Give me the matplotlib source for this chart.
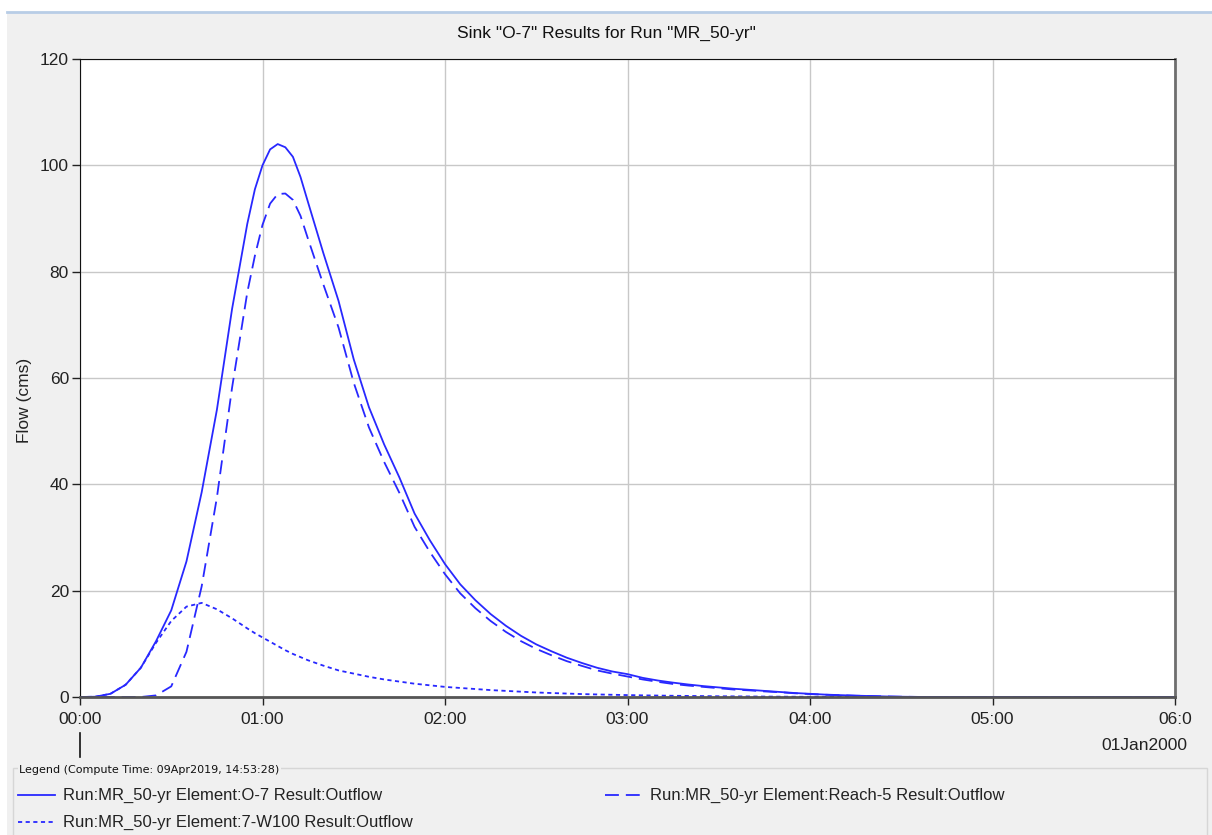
import matplotlib
matplotlib.use('Agg')
import matplotlib.pyplot as plt
from matplotlib.lines import Line2D
from matplotlib.patches import Rectangle

# time in minutes from 00:00, 01Jan2000
minutes = [0, 5, 10, 15, 20, 25, 30, 35, 40, 45, 50, 55, 57.5, 60, 62.5, 65, 67.5, 70, 72.5,
           75, 80, 85, 90, 95, 100, 105, 110, 115, 120, 125, 130, 135, 140, 145, 150, 155,
           160, 165, 170, 175, 180, 185, 190, 195, 200, 205, 210, 215, 220, 225, 230, 235,
           240, 245, 250, 255, 260, 265, 270, 275, 280, 300, 330, 360]

# O-7 outflow (cms)
flow_o7 = [0.0, 0.05, 0.6, 2.3, 5.5, 10.5, 16.3, 25.5, 38.5, 54.0, 73.0, 89.0, 95.5, 100.0,
           103.0, 104.0, 103.4, 101.6, 97.8, 93.0, 83.5, 74.5, 63.5, 54.5, 47.5, 41.3, 34.5,
           29.5, 25.0, 21.2, 18.2, 15.6, 13.4, 11.5, 9.9, 8.6, 7.4, 6.4, 5.5, 4.8, 4.3, 3.6,
           3.1, 2.7, 2.35, 2.05, 1.8, 1.55, 1.35, 1.15, 0.95, 0.75, 0.6, 0.45, 0.35, 0.25,
           0.18, 0.1, 0.05, 0.02, 0.0, 0.0, 0.0, 0.0]

# Reach-5 outflow (cms)
flow_reach5 = [0.0, 0.0, 0.0, 0.0, 0.0, 0.3, 2.0, 8.5, 20.8, 37.5, 58.2, 76.1, 83.0, 88.8,
               92.8, 94.6, 94.7, 93.5, 90.5, 86.1, 77.6, 69.5, 59.1, 50.7, 44.2, 38.4, 32.0,
               27.3, 23.1, 19.5, 16.7, 14.3, 12.25, 10.5, 9.05, 7.85, 6.75, 5.85, 5.0, 4.4,
               3.85, 3.3, 2.85, 2.45, 2.15, 1.9, 1.65, 1.4, 1.25, 1.05, 0.9, 0.7, 0.55, 0.42,
               0.33, 0.24, 0.18, 0.1, 0.05, 0.02, 0.0, 0.0, 0.0, 0.0]

# 7-W100 outflow (cms)
flow_w100 = [0.0, 0.05, 0.6, 2.3, 5.5, 10.2, 14.3, 17.0, 17.7, 16.5, 14.8, 12.9, 12.0, 11.2,
             10.4, 9.6, 8.8, 8.1, 7.5, 6.9, 5.9, 5.0, 4.4, 3.8, 3.3, 2.9, 2.5, 2.2, 1.9, 1.7,
             1.5, 1.3, 1.15, 1.0, 0.85, 0.75, 0.65, 0.55, 0.48, 0.42, 0.36, 0.31, 0.27, 0.23,
             0.2, 0.17, 0.14, 0.12, 0.1, 0.08, 0.06, 0.05, 0.04, 0.03, 0.02, 0.01, 0.0, 0.0,
             0.0, 0.0, 0.0, 0.0, 0.0, 0.0]

x_ticks = [0, 1, 2, 3, 4, 5, 6]
x_tick_labels = ['00:00', '01:00', '02:00', '03:00', '04:00', '05:00', '06:0']
y_ticks = [0, 20, 40, 60, 80, 100, 120]

series = [
    ('Run:MR_50-yr Element:O-7 Result:Outflow', flow_o7, None),
    ('Run:MR_50-yr Element:Reach-5 Result:Outflow', flow_reach5, (10, 5)),
    ('Run:MR_50-yr Element:7-W100 Result:Outflow', flow_w100, (3, 2.5)),
]

plt.rcParams['font.family'] = ['Liberation Sans', 'DejaVu Sans']
plt.rcParams['lines.scale_dashes'] = False

W, H = 1212, 835
BLUE = '#2828ff'
PANEL = '#f0f0f0'

fig = plt.figure(figsize=(W / 100, H / 100), dpi=100, facecolor='white')

# grey window panel and blue top rule
fig.add_artist(Rectangle((7 / W, 0), 1 - 7 / W, (H - 12) / H, transform=fig.transFigure,
                         facecolor=PANEL, edgecolor='none', zorder=0))
fig.add_artist(Line2D([7 / W, 1], [(H - 12) / H] * 2, transform=fig.transFigure,
                      color='#b8cde6', lw=2, zorder=1))

ax = fig.add_axes([80 / W, (H - 697) / H, 1095 / W, 638 / H])
ax.set_facecolor('white')

hours = [m / 60 for m in minutes]
for label, vals, dashes in series:
    kw = dict(color=BLUE, lw=1.3, label=label)
    if dashes:
        kw['dashes'] = dashes
    ax.plot(hours, vals, **kw)

ax.set_xlim(0, 6)
ax.set_ylim(0, 120)
ax.set_xticks(x_ticks)
ax.set_xticklabels(x_tick_labels)
ax.set_yticks(y_ticks)
ax.grid(True, color='#c8c8c8', lw=1)
ax.set_axisbelow(True)
ax.tick_params(direction='out', length=6, width=1, labelsize=12.5, colors='#222222')
ax.tick_params(axis='x', pad=5)
ax.tick_params(axis='y', pad=2)

ax.spines['top'].set_color('#111111')
ax.spines['left'].set_color('#111111')
ax.spines['right'].set_color('#6e6e6e')
ax.spines['right'].set_linewidth(2)
ax.spines['bottom'].set_color('#555555')
ax.spines['bottom'].set_linewidth(2)

fig.text(0.5, (H - 33) / H, 'Sink "O-7" Results for Run "MR_50-yr"', ha='center',
         va='center', fontsize=12.5, color='#111111')
fig.text(25 / W, (H - 400) / H, 'Flow (cms)', rotation=90, ha='center', va='center',
         fontsize=12.5, color='#222222')
fig.text(1187 / W, (H - 745) / H, '01Jan2000', ha='right', va='center',
         fontsize=12.5, color='#222222')

# day marker under 00:00
fig.add_artist(Line2D([80 / W] * 2, [(H - 733) / H, (H - 757) / H],
                      transform=fig.transFigure, color='#111111', lw=1.2))

# legend box
fig.add_artist(Rectangle((13 / W, -0.01), 1194 / W, (H - 768) / H + 0.01,
                         transform=fig.transFigure, facecolor='none',
                         edgecolor='#d6d6d6', lw=1, zorder=2))
fig.text(19 / W, (H - 770) / H, 'Legend (Compute Time: 09Apr2019, 14:53:28)',
         family='DejaVu Sans', ha='left', va='center', fontsize=8, color='#111111',
         bbox=dict(facecolor=PANEL, edgecolor='none', pad=1), zorder=3)

slots = [(18, 795), (605, 795), (18, 822)]
for (label, vals, dashes), (lx, ly) in zip(series, slots):
    kw = dict(color=BLUE, lw=1.3, transform=fig.transFigure)
    if dashes:
        kw['dashes'] = dashes
    fig.add_artist(Line2D([lx / W, (lx + 37) / W], [(H - ly) / H] * 2, **kw))
    fig.text((lx + 45) / W, (H - ly) / H, label, ha='left', va='center',
             fontsize=12, color='#222222')

fig.savefig('out.png', dpi=100, facecolor='white')
